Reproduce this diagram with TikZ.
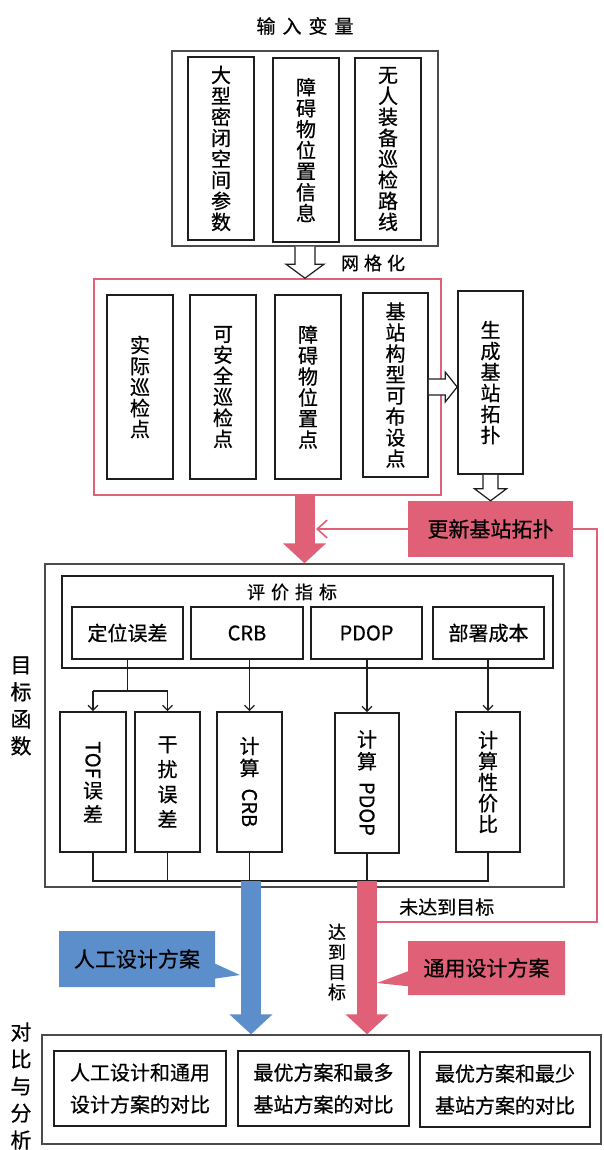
\documentclass[tikz,border=0pt]{standalone}
\usepackage{fontspec}
\usepackage{graphicx}
\setmainfont{Noto Sans CJK SC}[FakeBold=0.6]
\usetikzlibrary{arrows.meta,calc,shapes.callouts}
\definecolor{pk}{RGB}{224,96,120}
\definecolor{bl}{RGB}{92,142,204}
\definecolor{ln}{RGB}{30,30,30}
\begin{document}
\begin{tikzpicture}[x=1pt,y=-1pt,
  bx/.style={draw=ln, line width=1.6pt, fill=white, inner sep=0pt, align=center, font=\fontsize{20}{21}\selectfont},
  obox/.style={draw=ln!80, line width=1.4pt, inner sep=0pt},
  conn/.style={draw=ln, line width=1.3pt},
  tip/.style={-{Straight Barb[length=5pt,width=10pt]}},
  hollow/.style={draw=ln, line width=1.2pt, fill=white},
  thick/.style={line width=20pt, -{Triangle[width=42pt,length=20pt]}},
  pkln/.style={draw=pk, line width=1.6pt},
  lbl/.style={inner sep=0pt, align=center}
]
\useasboundingbox (0,0) rectangle (603,1150);

% ---------- input section ----------
\node[lbl, font=\fontsize{19}{21}\selectfont] (title) at (305,26) {输\hspace{7pt}入\hspace{7pt}变\hspace{7pt}量};
\node[obox, minimum width=266pt, minimum height=195pt] (inbox) at (305,148.5) {};
\node[bx, minimum width=66pt, minimum height=183pt] (in1) at (221,148.5) {大\\型\\密\\闭\\空\\间\\参\\数};
\node[bx, minimum width=66pt, minimum height=184pt] (in2) at (306,150) {障\\碍\\物\\位\\置\\信\\息};
\node[bx, minimum width=66pt, minimum height=182pt] (in3) at (388,149) {无\\人\\装\\备\\巡\\检\\路\\线};

% ---------- grid section ----------
\node[draw=pk, line width=1.6pt, minimum width=347pt, minimum height=216pt, inner sep=0pt] (pinkbox) at (267.5,387) {};
\node[bx, minimum width=66pt, minimum height=184pt] (p1) at (140,387) {实\\际\\巡\\检\\点};
\node[bx, minimum width=66pt, minimum height=184pt] (p2) at (223,387) {可\\安\\全\\巡\\检\\点};
\node[bx, minimum width=66pt, minimum height=184pt] (p3) at (308,387) {障\\碍\\物\\位\\置\\点};
\node[bx, minimum width=65pt, minimum height=184pt] (p4) at (395.5,385) {基\\站\\构\\型\\可\\布\\设\\点};
\node[bx, minimum width=65pt, minimum height=183pt] (gen) at (490.5,382.5) {生\\成\\基\\站\\拓\\扑};
\node[fill=pk, inner sep=0pt, minimum width=165pt, minimum height=56pt, font=\fontsize{21}{23}\selectfont] (update) at (490.5,529) {更新基站拓扑};

% hollow arrow: input -> grid
\coordinate (h1t) at (inbox.south);
\coordinate (h1b) at (pinkbox.north -| inbox.south);
\draw[hollow] ($(h1t)+(-10,0)$) -- ($(h1b)+(-10,-14)$) -- ($(h1b)+(-19,-14)$) -- (h1b) -- ($(h1b)+(19,-14)$) -- ($(h1b)+(10,-14)$) -- ($(h1t)+(10,0)$);
\node[lbl, font=\fontsize{18}{20}\selectfont] (grid) at (373,263) {网\hspace{5pt}格\hspace{5pt}化};

% hollow arrow: p4 -> gen
\coordinate (h2a) at ($(p4.east)+(0,2)$);
\coordinate (h2b) at (gen.west |- h2a);
\draw[hollow] ($(h2a)+(0,-8)$) -- ($(h2b)+(-12,-8)$) -- ($(h2b)+(-12,-15)$) -- (h2b) -- ($(h2b)+(-12,15)$) -- ($(h2b)+(-12,8)$) -- ($(h2a)+(0,8)$);

% hollow arrow: gen -> update
\coordinate (h3t) at (gen.south);
\coordinate (h3b) at (update.north);
\draw[hollow] ($(h3t)+(-7.5,0)$) -- ($(h3b)+(-7.5,-12)$) -- ($(h3b)+(-16,-12)$) -- (h3b) -- ($(h3b)+(16,-12)$) -- ($(h3b)+(7.5,-12)$) -- ($(h3t)+(7.5,0)$);

% ---------- objective section ----------
\node[obox, minimum width=519pt, minimum height=323pt] (objbox) at (304.5,725.5) {};
\node[lbl, font=\fontsize{21}{27}\selectfont] (objlbl) at (21,706) {目\\标\\函\\数};
\node[draw=ln, line width=1.6pt, inner sep=0pt, minimum width=491pt, minimum height=92pt] (evalbox) at (307.5,622) {};
\node[lbl, font=\fontsize{18}{20}\selectfont] (evaltitle) at (292,592) {评\hspace{6pt}价\hspace{6pt}指\hspace{6pt}标};
\node[bx, minimum width=111pt, minimum height=52pt] (m1) at (127.5,633) {定位误差};
\node[bx, minimum width=112pt, minimum height=52pt] (m2) at (247,633) {CRB};
\node[bx, minimum width=111pt, minimum height=52pt] (m3) at (366.5,633) {PDOP};
\node[bx, minimum width=111pt, minimum height=52pt] (m4) at (488.5,633) {部署成本};

\node[bx, minimum width=66pt, minimum height=140pt, font=\fontsize{20}{24}\selectfont] (c1) at (93,782) {\rotatebox{-90}{TOF}\\[2pt]误\\差};
\node[bx, minimum width=65pt, minimum height=140pt, font=\fontsize{20}{25}\selectfont] (c2) at (167.5,782) {干\\扰\\误\\差};
\node[bx, minimum width=65pt, minimum height=140pt, font=\fontsize{20}{22}\selectfont] (c3) at (249.5,782) {计\\算\\[-9pt]\rotatebox{-90}{CRB}};
\node[bx, minimum width=64pt, minimum height=140pt, font=\fontsize{20}{22}\selectfont] (c4) at (367,783) {计\\算\\[-9pt]\rotatebox{-90}{PDOP}};
\node[bx, minimum width=64pt, minimum height=140pt, font=\fontsize{20}{21}\selectfont] (c5) at (488,782) {计\\算\\性\\价\\比};

% metric -> computation arrows
\coordinate (bry) at (0,691);
\draw[conn] (m1.south) -- (m1.south |- bry);
\draw[conn] (c1.north |- bry) -- (c2.north |- bry);
\draw[conn, tip] (c1.north |- bry) -- (c1.north);
\draw[conn, tip] (c2.north |- bry) -- (c2.north);
\draw[conn, tip] (c3.north |- m2.south) -- (c3.north);
\draw[conn, tip] (c4.north |- m3.south) -- (c4.north);
\draw[conn, tip] (c5.north |- m4.south) -- (c5.north);

% bus line
\coordinate (busy) at (0,881);
\draw[conn] (c1.south) -- (c1.south |- busy) -- (c5.south |- busy) -- (c5.south);
\draw[conn] (c2.south) -- (c2.south |- busy);
\draw[conn] (c3.south) -- (c3.south |- busy);
\draw[conn] (c4.south) -- (c4.south |- busy);

% ---------- comparison section ----------
\node[obox, minimum width=559pt, minimum height=109pt] (cmpbox) at (321.5,1089.5) {};
\node[lbl, font=\fontsize{21}{27}\selectfont] (cmplbl) at (21,1086) {对\\比\\与\\分\\析};
\node[bx, minimum width=172pt, minimum height=75pt, font=\fontsize{20}{32}\selectfont] (b1) at (140,1088.5) {人工设计和通用\\设计方案的对比};
\node[bx, minimum width=171pt, minimum height=75pt, font=\fontsize{20}{32}\selectfont] (b2) at (323.5,1088.5) {最优方案和最多\\基站方案的对比};
\node[bx, minimum width=170pt, minimum height=75pt, font=\fontsize{20}{32}\selectfont] (b3) at (505,1089.5) {最优方案和最少\\基站方案的对比};

% thick arrows
\draw[pk, thick] (pinkbox.south -| objbox.north) -- (objbox.north);
\draw[bl, thick] ($(c3.south |- busy)+(1.5,0)$) -- ($(c3.south |- cmpbox.north)+(1.5,0)$);
\draw[pk, thick] (c4.south |- busy) -- (c4.south |- cmpbox.north);

% feedback loop
\coordinate (loopstart) at ($(c4.south |- busy)+(10,41)$);
\coordinate (ret) at ($(objbox.north)+(11.5,-35)$);
\draw[pkln] (loopstart) -| ($(update.east)+(24,0)$) -- (update.east);
\draw[pkln, -{Straight Barb[length=10pt,width=18pt]}] (update.west) -- (ret |- update.west);
\node[lbl, font=\fontsize{19}{21}\selectfont, anchor=west] (notreach) at (399,907) {未达到目标};
\node[lbl, font=\fontsize{18}{20}\selectfont] (reach) at (337,962) {达\\到\\目\\标};

% callouts
\node[rectangle callout, fill=bl, inner sep=0pt, minimum width=156pt, minimum height=56pt, callout absolute pointer={(240,975)}, callout pointer width=15pt, font=\fontsize{21}{23}\selectfont] (manual) at (137,959) {人工设计方案};
\node[rectangle callout, fill=pk, inner sep=0pt, minimum width=157pt, minimum height=54pt, callout absolute pointer={(377,983)}, callout pointer width=15pt, font=\fontsize{21}{23}\selectfont] (general) at (486.5,968) {通用设计方案};
\end{tikzpicture}
\end{document}
